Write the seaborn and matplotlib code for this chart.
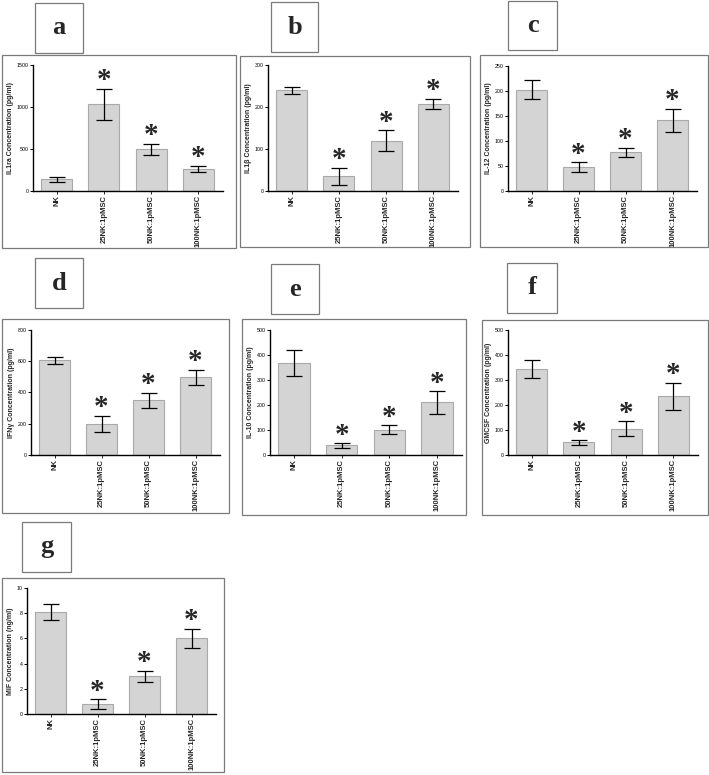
import numpy as np
import pandas as pd

import matplotlib
matplotlib.use("Agg")
import matplotlib.pyplot as plt
from matplotlib.patches import Rectangle
import seaborn as sns

# data (mean and error bar half-length)
groups = ["NK", "25NK:1pMSC", "50NK:1pMSC", "100NK:1pMSC"]

il1ra_mean = [140, 1030, 495, 262]
il1ra_err = [28, 188, 68, 40]

il1b_mean = [240, 35, 120, 208]
il1b_err = [8, 20, 25, 12]

il12_mean = [203, 48, 78, 142]
il12_err = [19, 10, 9, 23]

ifng_mean = [605, 198, 350, 498]
ifng_err = [20, 53, 48, 48]

il10_mean = [368, 38, 100, 210]
il10_err = [52, 10, 18, 45]

gmcsf_mean = [345, 50, 105, 235]
gmcsf_err = [37, 10, 30, 55]

mif_mean = [8.1, 0.8, 3.0, 6.0]
mif_err = [0.65, 0.38, 0.45, 0.78]

significant = [False, True, True, True]

W, H = 709, 775


def px_rect(x0, y0, x1, y1):
    # pixel box (top-left origin) -> figure fraction [left, bottom, width, height]
    return [x0 / W, 1 - y1 / H, (x1 - x0) / W, (y1 - y0) / H]


def draw_box(fig, x0, y0, x1, y1, color="#7a7a7a"):
    l, b, w, h = px_rect(x0, y0, x1, y1)
    fig.patches.append(Rectangle((l, b), w, h, transform=fig.transFigure,
                                 fill=False, edgecolor=color, linewidth=0.9))


def draw_panel(fig, letter, ylabel, means, errs, ymax, ystep, ax_px, border_px, box_px):
    draw_box(fig, *border_px)
    draw_box(fig, *box_px)
    bl, bb, bw, bh = px_rect(*box_px)
    fig.text(bl + bw / 2, bb + bh / 2, letter, ha="center", va="center",
             fontsize=19, fontweight="bold", family="Liberation Serif")

    ax = fig.add_axes(px_rect(*ax_px))
    df = pd.DataFrame({"group": groups, "value": means})
    sns.barplot(data=df, x="group", y="value", order=groups, color="#d4d4d4",
                edgecolor="#a9a9a9", linewidth=0.8, width=0.66, saturation=1,
                errorbar=None, ax=ax)
    ax.errorbar(np.arange(len(groups)), means, yerr=errs, fmt="none",
                ecolor="black", elinewidth=0.9, capsize=6, capthick=0.9)
    for i, (m, e, s) in enumerate(zip(means, errs, significant)):
        if s:
            ax.annotate("*", xy=(i, m + e), xytext=(0, -4), textcoords="offset points",
                        ha="center", va="bottom", fontsize=21, fontweight="bold",
                        family="Liberation Serif")

    ax.set_xlim(-0.5, 3.52)
    ax.set_ylim(0, ymax)
    ticks = np.arange(0, ymax + ystep / 2, ystep)
    ax.set_yticks(ticks)
    ax.set_yticklabels([f"{v:g}" for v in ticks])
    ax.set_xlabel("")
    ax.set_ylabel(ylabel, fontsize=5, fontweight="bold", family="Liberation Sans",
                  labelpad=2)
    ax.tick_params(axis="y", labelsize=3.8, length=2, width=0.7, pad=1, colors="black")
    ax.tick_params(axis="x", labelsize=5.5, length=2, width=0.7, pad=1)
    for lab in ax.get_xticklabels():
        lab.set_rotation(90)
        lab.set_fontweight("bold")
        lab.set_family("Liberation Sans")
    for lab in ax.get_yticklabels():
        lab.set_family("Liberation Sans")
    sns.despine(ax=ax)
    for sp in ("left", "bottom"):
        ax.spines[sp].set_linewidth(1.0)
        ax.spines[sp].set_color("black")
    ax.patch.set_alpha(0)
    return ax


sns.set_theme(style="ticks")
plt.rcParams["font.family"] = ["Liberation Sans", "DejaVu Sans"]

fig = plt.figure(figsize=(W / 100, H / 100), dpi=100)
fig.patch.set_facecolor("white")

draw_panel(fig, "a", "IL1ra Concentration (pg/ml)", il1ra_mean, il1ra_err, 1500, 500,
           (33, 65, 223, 191), (2, 55, 236, 248), (35, 3, 83, 53))
draw_panel(fig, "b", "IL1\u03b2 Concentration (pg/ml)", il1b_mean, il1b_err, 300, 100,
           (268, 65, 458, 191), (240, 56, 470, 247), (271, 2, 318, 52))
draw_panel(fig, "c", "IL-12 Concentration (pg/ml)", il12_mean, il12_err, 250, 50,
           (508, 66, 697, 191), (480, 55, 708, 247), (508, 1, 557, 50))
draw_panel(fig, "d", "IFN\u03b3 Concentration (pg/ml)", ifng_mean, ifng_err, 800, 200,
           (31, 330, 220, 455), (2, 319, 229, 513), (35, 258, 83, 308))
draw_panel(fig, "e", "IL-10 Concentration (pg/ml)", il10_mean, il10_err, 500, 100,
           (270, 330, 462, 455), (242, 319, 466, 515), (271, 264, 319, 314))
draw_panel(fig, "f", "GMCSF Concentration (pg/ml)", gmcsf_mean, gmcsf_err, 500, 100,
           (508, 330, 698, 455), (482, 320, 708, 515), (507, 263, 557, 313))
draw_panel(fig, "g", "MIF Concentration (ng/ml)", mif_mean, mif_err, 10, 2,
           (27, 588, 216, 714), (2, 578, 224, 772), (22, 522, 71, 572))

fig.savefig("out.png", dpi=100, facecolor="white")
plt.close(fig)
